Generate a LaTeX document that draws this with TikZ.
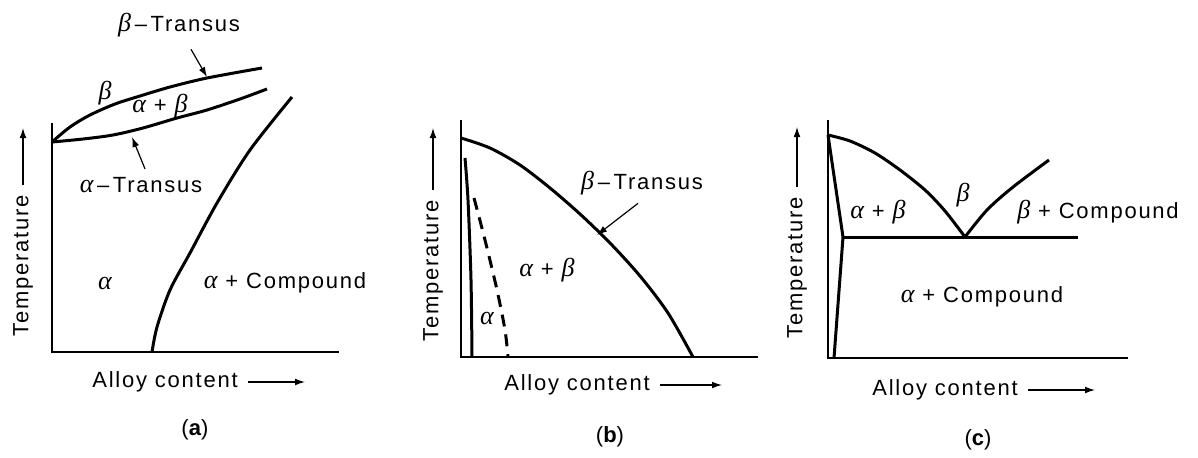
\documentclass[tikz,border=0pt]{standalone}
\usepackage{fontspec}
\setmainfont{Liberation Sans}
\newfontfamily\labelfont[LetterSpace=8]{Liberation Sans}
\newfontfamily\greekfont{Liberation Serif}
\newcommand{\galpha}{{\greekfont\itshape\fontsize{13}{13}\selectfont α}}
\newcommand{\gbeta}{{\greekfont\itshape\fontsize{13}{13}\selectfont β}}
\usetikzlibrary{arrows.meta,positioning}
\tikzset{
  axis/.style={line width=1pt,draw=black},
  phase/.style={line width=1.5pt,draw=black,line join=round},
  solvus/.style={phase,dash pattern=on 6pt off 4pt},
  lbl/.style={font=\labelfont\fontsize{11}{13}\selectfont,inner sep=1pt},
  axlabel/.style={lbl,inner sep=2pt},
  axarrow/.style={-{Latex[length=5pt,width=3.4pt]},line width=0.6pt,shorten <=3pt},
  pointer/.style={-{Latex[length=5pt,width=3.4pt]},line width=0.6pt},
  caption/.style={font=\fontsize{11}{13}\selectfont}
}
\begin{document}
\begin{tikzpicture}[x=0.5pt,y=-0.5pt]
\useasboundingbox (0,0) rectangle (1198,457);

% (a)
\draw[axis] (52,123) -- (52,352) -- (339,352);
\draw[phase] plot[smooth] coordinates {(52,142) (70,127) (90,115) (115,104) (140,96) (170,87) (207,78) (262,68)};
\draw[phase] plot[smooth] coordinates {(52,142) (83,139) (113,135) (143,128) (177,118) (207,110) (240,99) (267,89)};
\draw[phase] plot[smooth] coordinates {(152,352) (157,327) (170,290) (190,253) (217,203) (250,150) (292,97)};
\node[lbl] (bt-a) at (179,25) {\gbeta\,–\,Transus};
\coordinate (bt-a-pt) at (207,77);
\draw[pointer] ([xshift=6pt,yshift=-5pt]bt-a.south) -- (bt-a-pt);
\node[lbl] (at-a) at (141,185) {\galpha\,–\,Transus};
\coordinate (at-a-pt) at (132,137);
\draw[pointer] ([xshift=2pt,yshift=3pt]at-a.north) -- (at-a-pt);
\node[lbl] (b-a) at (105,93) {\gbeta};
\node[lbl] (ab-a) at (160,106) {\galpha\ + \gbeta};
\node[lbl] (al-a) at (105,283) {\galpha};
\node[lbl] (ac-a) at (285,283) {\galpha\ + Compound};
\node[axlabel,rotate=90] (t-a) at (23,266) {Temperature};
\coordinate (t-a-tip) at (23,128);
\draw[axarrow] (t-a.east) -- (t-a-tip);
\node[axlabel] (x-a) at (165,382) {Alloy content};
\coordinate (x-a-tip) at (305,382);
\draw[axarrow] (x-a.east) -- (x-a-tip);
\node[caption] (cap-a) at (195,430) {(\textbf{a})};

% (b)
\draw[axis] (461,120) -- (461,357) -- (758,357);
\draw[phase] plot[smooth] coordinates {(461,138) (490,148) (520,165) (550,188) (580,214) (610,243) (640,276) (668,313) (693,357)};
\draw[phase] plot[smooth] coordinates {(465,158) (468,200) (471,280) (472,357)};
\draw[solvus] plot[smooth] coordinates {(474,198) (485,240) (497,290) (505,330) (508,357)};
\node[lbl] (bt-b) at (642,183) {\gbeta\,–\,Transus};
\coordinate (bt-b-pt) at (597,235);
\draw[pointer] ([xshift=-2pt,yshift=-3pt]bt-b.south) -- (bt-b-pt);
\node[lbl] (ab-b) at (547,270) {\galpha\ + \gbeta};
\node[lbl] (al-b) at (487,318) {\galpha};
\node[axlabel,rotate=90] (t-b) at (433,271) {Temperature};
\coordinate (t-b-tip) at (433,128);
\draw[axarrow] (t-b.east) -- (t-b-tip);
\node[axlabel] (x-b) at (577,385) {Alloy content};
\coordinate (x-b-tip) at (722,385);
\draw[axarrow] (x-b.east) -- (x-b-tip);
\node[caption] (cap-b) at (610,437) {(\textbf{b})};

% (c)
\draw[axis,line width=0.7pt] (828,120) -- (828,358) -- (1128,358);
\draw[phase] (828,135) -- (843,237) -- (834,358);
\draw[phase] plot[smooth] coordinates {(828,135) (850,141) (875,153) (900,170) (925,190) (945,211) (965,237)};
\draw[phase] plot[smooth] coordinates {(965,237) (987,210) (1013,187) (1049,160)};
\draw[phase] (843,237) -- (1078,237);
\node[lbl] (ab-c) at (878,212) {\galpha\ + \gbeta};
\node[lbl] (b-c) at (963,195) {\gbeta};
\node[lbl] (bc-c) at (1098,212) {\gbeta\ + Compound};
\node[lbl] (ac-c) at (982,297) {\galpha\ + Compound};
\node[axlabel,rotate=90] (t-c) at (797,268) {Temperature};
\coordinate (t-c-tip) at (797,127);
\draw[axarrow] (t-c.east) -- (t-c-tip);
\node[axlabel] (x-c) at (945,390) {Alloy content};
\coordinate (x-c-tip) at (1095,390);
\draw[axarrow] (x-c.east) -- (x-c-tip);
\node[caption] (cap-c) at (978,440) {(\textbf{c})};
\end{tikzpicture}
\end{document}
